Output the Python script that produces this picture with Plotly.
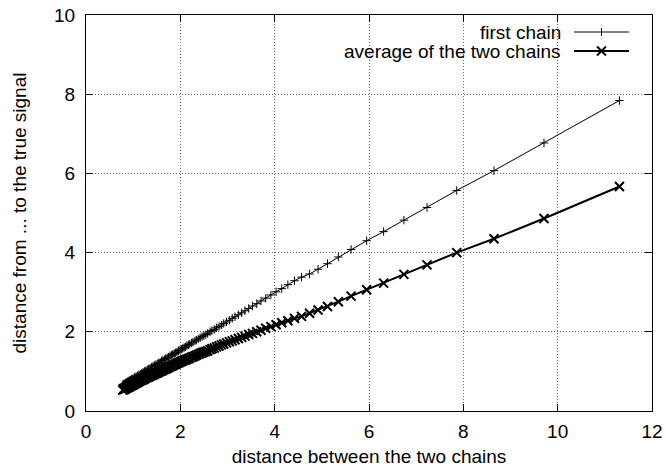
import plotly.graph_objects as go

# distance between the two chains (shared x values)
dist_between = [
    0.78, 0.80, 0.82, 0.84, 0.86, 0.88, 0.90, 0.92, 0.94, 0.96, 0.98, 1.00,
    1.03, 1.06, 1.09, 1.12, 1.15, 1.18, 1.21, 1.24, 1.27, 1.30, 1.33, 1.36,
    1.39, 1.42, 1.45, 1.48, 1.51, 1.54, 1.57, 1.60, 1.63, 1.66, 1.69, 1.72,
    1.75, 1.78, 1.81, 1.84, 1.87, 1.90, 1.93, 1.96, 1.99, 2.02, 2.05, 2.08,
    2.11, 2.14, 2.17, 2.20, 2.24, 2.27, 2.31, 2.34, 2.38, 2.42, 2.46, 2.50,
    2.54, 2.58, 2.63, 2.67, 2.72, 2.77, 2.82, 2.87, 2.92, 2.98, 3.04, 3.10,
    3.16, 3.23, 3.30, 3.37, 3.45, 3.53, 3.62, 3.71, 3.81, 3.92, 4.03, 4.15,
    4.28, 4.42, 4.57, 4.74, 4.92, 5.12, 5.35, 5.62, 5.95, 6.31, 6.74, 7.23,
    7.86, 8.65, 9.71, 11.31,
]

# distance from the first chain to the true signal
first_chain = [
    0.67, 0.68, 0.69, 0.71, 0.72, 0.74, 0.75, 0.77, 0.78, 0.80, 0.81, 0.82,
    0.85, 0.87, 0.89, 0.91, 0.93, 0.95, 0.98, 1.00, 1.02, 1.04, 1.06, 1.08,
    1.11, 1.13, 1.15, 1.17, 1.19, 1.21, 1.23, 1.26, 1.28, 1.30, 1.32, 1.34,
    1.36, 1.39, 1.41, 1.43, 1.45, 1.47, 1.49, 1.52, 1.54, 1.56, 1.58, 1.60,
    1.62, 1.65, 1.67, 1.69, 1.72, 1.74, 1.77, 1.79, 1.82, 1.85, 1.88, 1.90,
    1.93, 1.96, 2.00, 2.03, 2.06, 2.10, 2.13, 2.17, 2.21, 2.25, 2.29, 2.34,
    2.38, 2.43, 2.48, 2.53, 2.59, 2.65, 2.71, 2.78, 2.85, 2.93, 3.01, 3.09,
    3.19, 3.29, 3.38, 3.46, 3.58, 3.72, 3.89, 4.08, 4.30, 4.53, 4.82, 5.14,
    5.57, 6.07, 6.77, 7.84,
]

# distance from the average of the two chains to the true signal
average_chains = [
    0.53, 0.54, 0.55, 0.56, 0.58, 0.59, 0.60, 0.61, 0.63, 0.64, 0.65, 0.66,
    0.68, 0.70, 0.72, 0.74, 0.76, 0.78, 0.79, 0.81, 0.83, 0.85, 0.86, 0.88,
    0.90, 0.91, 0.93, 0.95, 0.96, 0.98, 1.00, 1.01, 1.03, 1.05, 1.06, 1.08,
    1.10, 1.12, 1.13, 1.15, 1.17, 1.18, 1.20, 1.22, 1.23, 1.25, 1.27, 1.28,
    1.29, 1.31, 1.32, 1.34, 1.36, 1.37, 1.39, 1.41, 1.43, 1.45, 1.47, 1.49,
    1.50, 1.52, 1.55, 1.57, 1.59, 1.62, 1.64, 1.67, 1.69, 1.72, 1.75, 1.77,
    1.80, 1.83, 1.86, 1.89, 1.93, 1.96, 2.00, 2.04, 2.09, 2.13, 2.18, 2.23,
    2.28, 2.34, 2.39, 2.47, 2.55, 2.64, 2.76, 2.90, 3.06, 3.23, 3.45, 3.69,
    4.00, 4.35, 4.86, 5.67,
]

series_names = ["first chain", "average of the two chains"]
x_ticks = [0, 2, 4, 6, 8, 10, 12]
y_ticks = [0, 2, 4, 6, 8, 10]

FONT = "Liberation Sans, Arial, Helvetica, sans-serif"
W, H = 665, 467
ML, MR, MT, MB = 86, 13, 15, 56
PW, PH = W - ML - MR, H - MT - MB


def px_x(p):
    return (p - ML) / PW


def px_y(p):
    return (H - MB - p) / PH


fig = go.Figure()
fig.add_trace(go.Scatter(
    x=dist_between, y=first_chain, name=series_names[0], mode="lines+markers",
    line=dict(color="black", width=1),
    marker=dict(symbol="cross-thin", size=6, line=dict(color="black", width=1)),
))
fig.add_trace(go.Scatter(
    x=dist_between, y=average_chains, name=series_names[1], mode="lines+markers",
    line=dict(color="black", width=2),
    marker=dict(symbol="x-thin", size=9, line=dict(color="black", width=2)),
))

axis_common = dict(
    showgrid=True, gridcolor="#666666", gridwidth=1, griddash="1px,2px",
    showline=True, linecolor="black", linewidth=1, mirror="ticks",
    ticks="inside", ticklen=7, tickcolor="black", tickwidth=1,
    zeroline=False, automargin=False,
    tickfont=dict(family=FONT, size=19, color="black"),
    title_font=dict(family=FONT, size=19, color="black"),
)

fig.update_xaxes(range=[0, 12], tickvals=x_ticks, ticktext=[str(v) for v in x_ticks],
                 title_text="distance between the two chains", title_standoff=10,
                 ticklabelstandoff=3, **axis_common)
fig.update_yaxes(range=[0, 10], tickvals=y_ticks, ticktext=[str(v) for v in y_ticks],
                 title_text="distance from ... to the true signal", title_standoff=22,
                 ticklabelstandoff=6, **axis_common)

shapes = []
# key area blanked (no grid under the key)
shapes.append(dict(type="rect", xref="paper", yref="paper",
                   x0=px_x(344), x1=px_x(651), y0=px_y(64), y1=px_y(MT + 1),
                   fillcolor="white", line=dict(width=0), layer="between"))

annotations = []
rows_y = [32, 51]
for i, name in enumerate(series_names):
    yy = px_y(rows_y[i])
    annotations.append(dict(text=name, xref="paper", yref="paper", x=px_x(563), y=yy,
                            xanchor="right", yanchor="middle", showarrow=False,
                            font=dict(family=FONT, size=19, color="black")))
    lw = 1 if i == 0 else 2
    shapes.append(dict(type="line", xref="paper", yref="paper",
                       x0=px_x(574), x1=px_x(629), y0=yy, y1=yy,
                       line=dict(color="black", width=lw)))
    cx = 601.5
    cy = rows_y[i]
    if i == 0:
        shapes.append(dict(type="line", xref="paper", yref="paper",
                           x0=px_x(cx), x1=px_x(cx), y0=px_y(cy - 4), y1=px_y(cy + 4),
                           line=dict(color="black", width=1)))
    else:
        r = 4.5
        shapes.append(dict(type="line", xref="paper", yref="paper",
                           x0=px_x(cx - r), x1=px_x(cx + r), y0=px_y(cy - r), y1=px_y(cy + r),
                           line=dict(color="black", width=2)))
        shapes.append(dict(type="line", xref="paper", yref="paper",
                           x0=px_x(cx - r), x1=px_x(cx + r), y0=px_y(cy + r), y1=px_y(cy - r),
                           line=dict(color="black", width=2)))

fig.update_layout(
    width=W, height=H, autosize=False,
    margin=dict(l=ML, r=MR, t=MT, b=MB, pad=0),
    paper_bgcolor="white", plot_bgcolor="white",
    showlegend=False, shapes=shapes, annotations=annotations,
    font=dict(family=FONT, size=19, color="black"),
)

fig.write_html("out.html")
